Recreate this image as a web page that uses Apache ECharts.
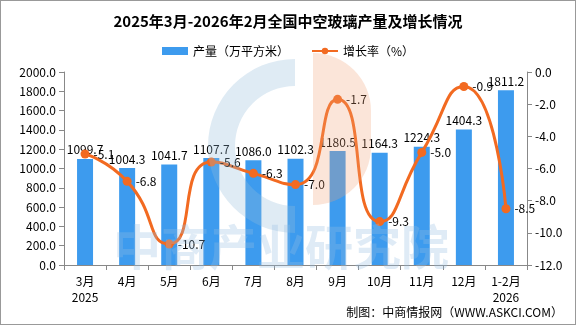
<!DOCTYPE html>
<html><head><meta charset="utf-8">
<script src="https://cdn.jsdelivr.net/npm/echarts@6/dist/echarts.min.js"></script>
<style>html,body{margin:0;padding:0;background:#fff}#c{width:574px;height:323px;border:1px solid #999}</style>
</head><body><div id="c"></div>
<script>
const categories = ['3月\n2025','4月','5月','6月','7月','8月','9月','10月','11月','12月','1-2月\n2026'];
const output = [1099.7,1004.3,1041.7,1107.7,1086.0,1102.3,1180.5,1164.3,1224.3,1404.3,1811.2];
const growth = [-5.1,-6.8,-10.7,-5.6,-6.3,-7.0,-1.7,-9.3,-5.0,-0.9,-8.5];
const FONT = '"Noto Sans CJK SC", sans-serif';
const chart = echarts.init(document.getElementById('c'));
chart.setOption({
  animation:false,
  textStyle:{fontFamily:FONT},
  title:{text:'2025年3月-2026年2月全国中空玻璃产量及增长情况',left:'center',top:8,
    textStyle:{fontSize:15,fontWeight:'bold',color:'#000',fontFamily:FONT}},
  legend:{top:39,left:'center',itemWidth:26,itemHeight:8,itemGap:22,
    textStyle:{fontSize:12,color:'#000'},
    data:[{name:'产量（万平方米）',icon:'rect'},{name:'增长率（%）'}]},
  grid:{left:63,right:48,top:71,bottom:59},
  xAxis:{type:'category',data:categories,
    axisLine:{lineStyle:{color:'#888'}},axisTick:{show:true,lineStyle:{color:'#888'}},
    axisLabel:{color:'#000',fontSize:12,lineHeight:16,margin:8}},
  yAxis:[
    {type:'value',min:0,max:2000,interval:200,splitLine:{show:false},
     axisLine:{show:true,lineStyle:{color:'#888'}},axisTick:{show:true,lineStyle:{color:'#888'}},
     axisLabel:{color:'#000',fontSize:12,formatter:v=>v.toFixed(1)}},
    {type:'value',min:-12,max:0,interval:2,splitLine:{show:false},
     axisLine:{show:true,lineStyle:{color:'#888'}},axisTick:{show:true,lineStyle:{color:'#888'}},
     axisLabel:{color:'#000',fontSize:12,formatter:v=>v.toFixed(1)}}
  ],
  graphic:[
    {type:'sector',z:100,silent:true,shape:{cx:294,cy:145,r:87,r0:60,startAngle:Math.PI*0.5,endAngle:Math.PI*1.5},
     style:{fill:'rgba(150,190,220,0.3)'}},
    {type:'rect',z:100,silent:true,shape:{x:312,y:52,width:58,height:152,r:[0,58,58,0]},
     style:{fill:'rgba(240,160,120,0.28)'}},
    {type:'text',z:100,silent:true,left:112,top:222,
     style:{text:'中商产业研究院',fill:'rgba(150,190,225,0.3)',font:'bold 48px "Noto Sans CJK SC"'}},
    {type:'text',right:12,bottom:6,style:{text:'制图：中商情报网（WWW.ASKCI.COM）',fill:'#000',font:'12px "Noto Sans CJK SC"'}}
  ],
  series:[
    {name:'产量（万平方米）',type:'bar',data:output,barWidth:16,itemStyle:{color:'#3D9BEE'},
     label:{show:true,position:'top',color:'#000',fontSize:12,distance:3,formatter:p=>p.value.toFixed(1)}},
    {name:'增长率（%）',type:'line',yAxisIndex:1,data:growth,smooth:0.6,symbol:'circle',symbolSize:9,
     lineStyle:{color:'#F26A21',width:3},itemStyle:{color:'#F26A21'},
     label:{show:true,position:'right',color:'#000',fontSize:12,distance:4,formatter:p=>p.value.toFixed(1)}}
  ]
});
</script></body></html>
